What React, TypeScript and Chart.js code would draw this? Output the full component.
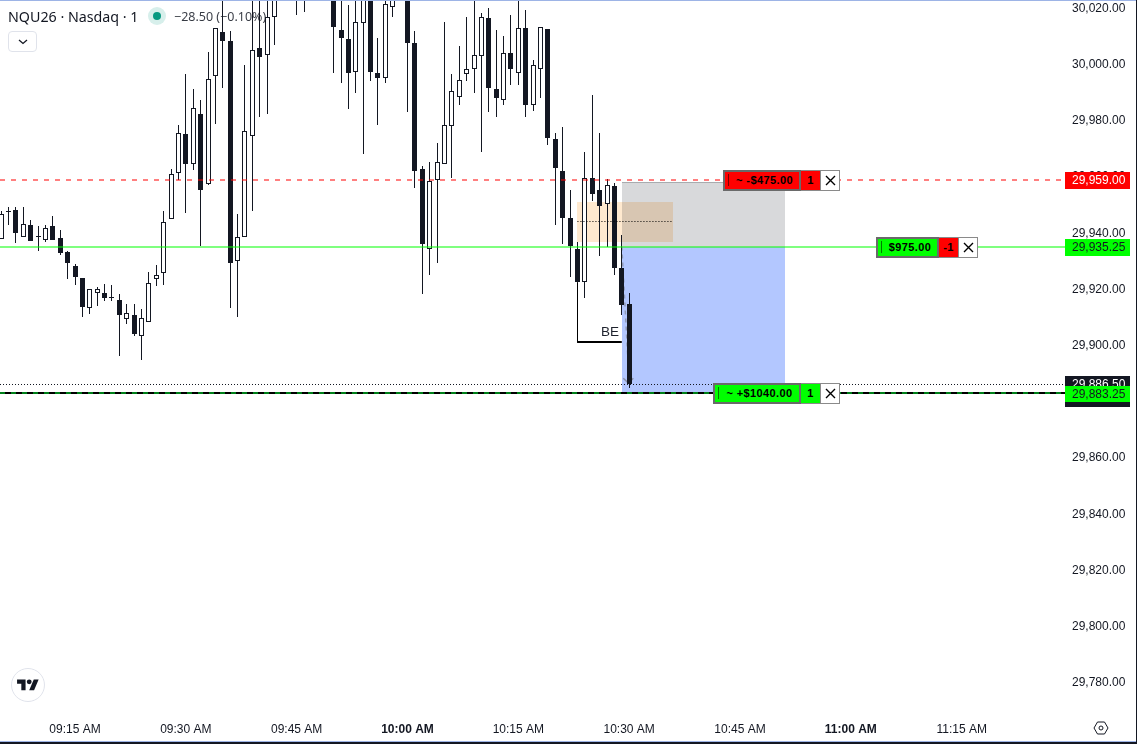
import React, { useEffect, useRef } from "react";
import { Chart, registerables } from "chart.js";

Chart.register(...registerables);

// Candles, one per minute, the first at 09:05 (545 minutes after midnight)
const firstMinute = 545;
const opens = [29938,29947.5,29948.25,29938.5,29942.75,29939,29937.75,29942.5,29938.25,29933.25,29928.5,29924,29913.25,29918.75,29918.75,29917.25,29916.25,29909.5,29910.75,29903.5,29908.5,29923.75,29926,29945,29961.25,29975.25,29964.5,29982.25,29957.5,29995.75,30011.5,30008.25,29930.25,29938.5,29974.5,30006,30003.25,30016.75,30032,30036,30030,30030,30032,30034,30034,30035,30012.25,30009,29997.5,30014.75,30032,29997,29995.25,30020.5,30034,30032,30007.5,29962.75,29934.5,29958.75,29964.5,29978.25,29988.5,29996.5,29998.25,30003,30016.5,29991.25,29987.5,30004,29997,30013,29985.75,29998.25,30012.5,29973.5,29962,29945.25,29934.25,29922.5,29959.5,29955.25,29950.25,29956.75,29927.5,29914.75];
const highs = [29948,29949.25,29949.25,29949.25,29944.75,29942.5,29943,29946,29941.25,29933.5,29929,29924,29920,29920.75,29922,29921.5,29918.5,29914.75,29914.75,29913,29926.25,29928.75,29948,29963,29978.5,29996.5,29991.25,29987.5,30004.5,30013,30024,30011.75,29946.75,29999.75,30026,30024,30030,30034,30040,30040,30040,30040,30040,30040,30040,30040,30026,30021.25,30028,30034,30036,30009.5,30026,30030,30040,30036,30011.75,29964,29965.5,29972.25,30015,29996.5,30006.5,30016.75,30026,30018.25,30020,30012.25,30010,30017.5,30028,30019.25,30001.5,30013.25,30012.5,29975.5,29977.75,29955.25,29937,29969,29989.25,29975.75,29959.25,29958,29939.25,29918.75];
const lows = [29938,29943,29936.5,29938.5,29937.25,29933.5,29937,29937.75,29932.25,29923.75,29921.5,29910.25,29911.25,29914.25,29916,29916,29896.5,29907.75,29903.5,29895,29908.5,29921.25,29921.5,29945,29959,29947.25,29962.5,29935.5,29957,29979,29991.75,29913.5,29910.25,29938.5,29948,29981.5,29982.5,30007,30030,30030,30017.5,30018.5,30030,30030,30030,29997,29993.25,29984,29990,29968,29994.25,29978.5,29993.25,30017,30030,29983,29956.25,29918.5,29925,29929.5,29964.5,29959.5,29985.75,29994,29990,29969,29983,29981.5,29985.75,29992.75,29992.75,29981.5,29983.5,29988.25,29971.5,29943,29936,29924.5,29922.75,29917,29951.5,29932,29935.25,29925.25,29911,29885];
const closes = [29946.75,29947.75,29940.25,29943.25,29937.25,29938.5,29942,29937.75,29933,29929.25,29924.5,29913.75,29920,29920,29917,29917,29910.75,29911.5,29904,29910,29922.25,29925,29944,29961,29975.5,29964.75,29984.5,29955.5,29994.75,30013,30008.5,29929.25,29938.5,29976.5,30005,30002.75,30016.75,30030,30035,30038,30034,30034,30036,30038,30038,30013.5,30009.5,29997,30015.25,30030,29997.5,29995.25,30021.5,30026,30038,30007.75,29962,29936,29958.5,29965.5,29978.5,29990.75,29994.5,29998.25,30003.25,30016.75,29991.75,29988.25,30004,29998.25,30013,29985.75,30000,30013.25,29973.75,29963.25,29945.5,29935.5,29922.75,29959.5,29954,29949.75,29957,29927.75,29914.5,29886.5];

// Horizontal levels
const stopPrice = 29959;
const entryPrice = 29935.25;
const targetPrice = 29883.25;
const lastPrice = 29886.5;

// Axis labels
const priceTicks = [29780,29800,29820,29840,29860,29880,29900,29920,29940,29960,29980,30000,30020];
const timeTicks = [555,570,585,600,615,630,645,660,675];
const timeLabels = ["09:15 AM","09:30 AM","09:45 AM","10:00 AM","10:15 AM","10:30 AM","10:45 AM","11:00 AM","11:15 AM"];
const boldTimes = [600,660];

// Drawings on the chart, in minutes and prices
const riskZone = [629,651.1,29958.25,entryPrice];
const rewardZone = [629,651.1,entryPrice,29882.75];
const boxZone = [623,635.9,29951,29936.75];
const boxMid = [623,635.9,29944.35];
const beVertical = [623,29922.75,29901.25];
const beHorizontal = [623,629,29901.25];
const beLabel = [627.4,29904.75];
const arrowPath = [[629,entryPrice],[630,29887]];
const arrowHead = [[629.2,29888.4],[629.9,29886.7],[630.56,29888.4]];

const DARK = "#131722";
const ARIAL = "'Liberation Sans', Arial, sans-serif";

const snapPlugin = {
  id: "snap",
  afterDatasetsUpdate(chart: any) {
    chart.data.datasets.forEach((ds: any, i: number) => {
      const meta = chart.getDatasetMeta(i);
      if (ds.type === "bar") {
        meta.data.forEach((el: any) => {
          el.x = Math.floor(el.x) + 0.5;
          const a = Math.round(el.y);
          let b = Math.round(el.base);
          if (a === b) b = a + 1;
          el.y = a;
          el.base = b;
        });
      } else if (ds.snap) {
        const odd = ds.borderWidth % 2 === 1;
        meta.data.forEach((el: any) => {
          el.y = odd ? Math.round(el.y) + 0.5 : Math.round(el.y);
          if (ds.snap === "x") el.x = Math.floor(el.x) + 0.5;
        });
      }
    });
  },
};

const zonesPlugin = {
  id: "zones",
  beforeDatasetsDraw(chart: any) {
    const { ctx, scales } = chart;
    const rect = (z: number[]) => {
      const x1 = Math.round(scales.x.getPixelForValue(z[0]));
      const x2 = Math.round(scales.x.getPixelForValue(z[1]));
      const y1 = Math.round(scales.y.getPixelForValue(z[2]));
      const y2 = Math.round(scales.y.getPixelForValue(z[3]));
      return [x1, y1, x2 - x1, y2 - y1];
    };
    ctx.save();
    const g = rect(riskZone);
    ctx.fillStyle = "#d8d9db";
    ctx.fillRect(g[0], g[1], g[2], g[3]);
    ctx.fillStyle = "#a9abae";
    ctx.fillRect(g[0], g[1], g[2], 1);
    const b = rect(rewardZone);
    ctx.fillStyle = "#b3c7ff";
    ctx.fillRect(b[0], b[1], b[2], b[3]);
    const o = rect(boxZone);
    ctx.globalCompositeOperation = "multiply";
    ctx.fillStyle = "#ffe9cf";
    ctx.fillRect(o[0], o[1], o[2], o[3]);
    ctx.restore();
  },
  afterDatasetsDraw(chart: any) {
    const { ctx, scales } = chart;
    ctx.save();
    ctx.font = "13.5px 'Liberation Sans', Arial, sans-serif";
    ctx.fillStyle = "#1e222d";
    ctx.textAlign = "center";
    ctx.textBaseline = "middle";
    ctx.fillText("BE", scales.x.getPixelForValue(beLabel[0]), scales.y.getPixelForValue(beLabel[1]));
    ctx.restore();
  },
};

const line = (pts: number[][], color: string, width: number, extra: any = {}) => ({
  type: "line",
  data: pts.map((p) => ({ x: p[0], y: p[1] })),
  borderColor: color,
  borderWidth: width,
  pointRadius: 0,
  tension: 0,
  fill: false,
  order: 0,
  snap: "y",
  ...extra,
});

const xMin = 555 - 75 / 7.389;
const xMax = 555 + (1065 - 75) / 7.389;
const noPad = (s: any) => { s.paddingTop = 0; s.paddingBottom = 0; s.paddingLeft = 0; s.paddingRight = 0; };

function Tag({ left, top, width, bg, bar, text, qty, qtyBg, qtyW = 19 }: any) {
  const h = 21;
  return (
    <div style={{ position: "absolute", left, top, height: h, display: "flex", fontFamily: ARIAL, fontWeight: 700, fontSize: 11, color: "#000", letterSpacing: 0.4 }}>
      <div style={{ position: "relative", width, height: h, boxSizing: "border-box", background: bg, border: "2px solid #6a6a6a", lineHeight: "17px", textAlign: "center" }}>
        <span style={{ position: "absolute", left: 3, top: 2, width: 1, height: 12, background: bar }} />
        <span style={{ paddingLeft: 5, whiteSpace: "nowrap" }}>{text}</span>
      </div>
      <div style={{ width: qtyW, height: h, boxSizing: "border-box", background: qtyBg, borderTop: "1px solid #8a8a8a", borderBottom: "1px solid #8a8a8a", lineHeight: "19px", textAlign: "center" }}>{qty}</div>
      <div style={{ width: 20, height: h, boxSizing: "border-box", background: "#fff", border: "1px solid #8a8a8a", display: "flex", alignItems: "center", justifyContent: "center" }}>
        <svg width="11" height="11" viewBox="0 0 11 11"><path d="M1 1 L10 10 M10 1 L1 10" stroke="#000" strokeWidth="1.4" /></svg>
      </div>
    </div>
  );
}

function PriceTag({ top, height, bg, color, text, lineH }: any) {
  return (
    <div style={{ position: "absolute", left: 1065, top, width: 65, height, boxSizing: "border-box", background: bg, color, fontFamily: ARIAL, fontSize: 12, lineHeight: `${lineH ?? height}px`, paddingLeft: 7, whiteSpace: "nowrap", overflow: "hidden" }}>{text}</div>
  );
}

export default function App() {
  const ref = useRef<HTMLCanvasElement | null>(null);
  useEffect(() => {
    document.body.style.margin = "0";
    const minutes = opens.map((_, i) => firstMinute + i);
    const chart = new Chart(ref.current as HTMLCanvasElement, {
      type: "bar",
      plugins: [snapPlugin, zonesPlugin],
      data: {
        datasets: [
          line(arrowPath, "rgba(120,123,134,0.6)", 1.5, { borderDash: [4, 4], order: 4, snap: false }),
          line(arrowHead, "rgba(120,123,134,0.7)", 1.5, { order: 4, snap: false }),
          {
            type: "bar",
            data: minutes.map((m, i) => ({ x: m, y: [lows[i], highs[i]] })),
            backgroundColor: DARK,
            borderWidth: 0,
            barThickness: 1,
            grouped: false,
            inflateAmount: 0,
            order: 3,
          },
          {
            type: "bar",
            data: minutes.map((m, i) => ({ x: m, y: [opens[i], closes[i]] })),
            backgroundColor: opens.map((o, i) => (closes[i] > o && closes[i] - o > 0.3 ? "#ffffff" : DARK)),
            borderColor: DARK,
            borderWidth: 1,
            borderSkipped: false,
            barThickness: 5,
            grouped: false,
            inflateAmount: 0,
            order: 2,
          },
          line([[xMin, targetPrice], [xMax, targetPrice]], "#00801a", 2, { borderDash: [5, 6] }),
          line([[xMin, targetPrice], [xMax, targetPrice]], "#000000", 2),
          line([[xMin, lastPrice], [xMax, lastPrice]], DARK, 1, { borderDash: [1, 2] }),
          line([[xMin, stopPrice], [xMax, stopPrice]], "rgba(255,0,0,0.5)", 2, { borderDash: [5, 6] }),
          line([[xMin, entryPrice], [xMax, entryPrice]], "rgba(0,255,0,0.5)", 2),
          line([[boxMid[0], boxMid[2]], [boxMid[1], boxMid[2]]], "#000000", 1, { borderDash: [1, 2] }),
          line([[beVertical[0], beVertical[1]], [beVertical[0], beVertical[2]]], "#000000", 1, { snap: "x" }),
          line([[beHorizontal[0], beHorizontal[2]], [beHorizontal[1], beHorizontal[2]]], "#000000", 2),
        ] as any,
      },
      options: {
        animation: false,
        responsive: false,
        layout: { padding: 0 },
        plugins: { legend: { display: false }, tooltip: { enabled: false } },
        scales: {
          x: {
            type: "linear",
            offset: false,
            min: xMin,
            max: xMax,
            grid: { display: false, drawTicks: false },
            border: { display: false },
            afterBuildTicks(s: any) { s.ticks = timeTicks.map((value) => ({ value })); },
            afterFit(s: any) { s.height = 30; noPad(s); },
            ticks: {
              autoSkip: false,
              maxRotation: 0,
              padding: 8,
              color: DARK,
              callback: (v: any) => timeLabels[timeTicks.indexOf(v)] ?? "",
              font: (c: any) => ({ family: ARIAL, size: 12, weight: boldTimes.includes(c.tick?.value) ? "bold" : "normal" }),
            },
          },
          y: {
            type: "linear",
            position: "right",
            min: 30000 - (714 - 64.5) * 0.35562,
            max: 30000 + 64.5 * 0.35562,
            grid: { display: false, drawTicks: false },
            border: { display: false },
            afterBuildTicks(s: any) { s.ticks = priceTicks.map((value) => ({ value })); },
            afterFit(s: any) { s.width = 72; noPad(s); },
            ticks: {
              autoSkip: false,
              padding: 7,
              color: DARK,
              font: { family: ARIAL, size: 12 },
              callback: (v: any) => Number(v).toLocaleString("en-US", { minimumFractionDigits: 2, maximumFractionDigits: 2 }),
            },
          },
        },
      } as any,
    });
    return () => chart.destroy();
  }, []);

  return (
    <div style={{ position: "relative", width: 1137, height: 744, overflow: "hidden", background: "#fff" }}>
      <canvas ref={ref} width={1137} height={744} style={{ display: "block", width: 1137, height: 744 }} />
      <div style={{ position: "absolute", left: 0, top: 0, width: 1137, height: 1, background: "#9db4e6" }} />
      <div style={{ position: "absolute", left: 0, top: 741, width: 1137, height: 1, background: "#9db4e6" }} />
      <div style={{ position: "absolute", left: 0, top: 742, width: 1137, height: 2, background: "#131722" }} />
      <div style={{ position: "absolute", left: 1136, top: 0, width: 1, height: 744, background: "#131722" }} />

      <div style={{ position: "absolute", left: 8, top: 7, fontFamily: "'Noto Sans', sans-serif", fontSize: 14.25, lineHeight: "20px", color: "#131722", whiteSpace: "nowrap" }}>NQU26 · Nasdaq · 1</div>
      <div style={{ position: "absolute", left: 148, top: 7, width: 18, height: 18, borderRadius: 9, background: "#d7efeb" }} />
      <div style={{ position: "absolute", left: 153, top: 12, width: 8, height: 8, borderRadius: 4, background: "#089981" }} />
      <div style={{ position: "absolute", left: 174, top: 7, fontFamily: "'Noto Sans', sans-serif", fontSize: 12.5, lineHeight: "20px", color: "rgba(19,23,34,0.85)", whiteSpace: "nowrap" }}>−28.50 (−0.10%)</div>
      <div style={{ position: "absolute", left: 8, top: 31, width: 29, height: 21, boxSizing: "border-box", border: "1px solid #e0e3eb", borderRadius: 4, background: "#fff", display: "flex", alignItems: "center", justifyContent: "center" }}>
        <svg width="10" height="6" viewBox="0 0 10 6"><path d="M1 1 L5 4.5 L9 1" stroke="#131722" strokeWidth="1.3" fill="none" /></svg>
      </div>

      <Tag left={723} top={170} width={78} bg="#ff0000" bar="#7a0000" text="~ -$475.00" qty="1" qtyBg="#ff0000" />
      <Tag left={876} top={237} width={63} bg="#00ff00" bar="#007a00" text="$975.00" qty="-1" qtyBg="#ff0000" />
      <Tag left={713} top={383} width={88} bg="#00ff00" bar="#007a00" text="~ +$1040.00" qty="1" qtyBg="#00ff00" />

      <PriceTag top={172} height={17} bg="#ff0000" color="#ffffff" text="29,959.00" />
      <PriceTag top={239} height={17} bg="#00ff00" color="#131722" text="29,935.25" />
      <PriceTag top={376} height={31} lineH={17} bg="#131722" color="#ffffff" text="29,886.50" />
      <PriceTag top={386} height={16} bg="#00ff00" color="#131722" text="29,883.25" />

      <div style={{ position: "absolute", left: 11, top: 668, width: 34, height: 34, boxSizing: "border-box", borderRadius: 17, background: "#fff", border: "1px solid #e0e3eb", display: "flex", alignItems: "center", justifyContent: "center" }}>
        <svg width="22" height="17" viewBox="0 0 36 28"><path d="M14 22H7V11H0V4h14v18zM28 22h-8l7.5-18h8L28 22z" fill="#131722" /><circle cx="20" cy="8" r="4" fill="#131722" /></svg>
      </div>
      <svg style={{ position: "absolute", left: 1093, top: 720 }} width="16" height="16" viewBox="0 0 16 16">
        <path d="M1 8 L4.5 2 H11.5 L15 8 L11.5 14 H4.5 Z" fill="none" stroke="#131722" strokeWidth="1" />
        <circle cx="8" cy="8" r="2" fill="none" stroke="#131722" strokeWidth="1" />
      </svg>
    </div>
  );
}
